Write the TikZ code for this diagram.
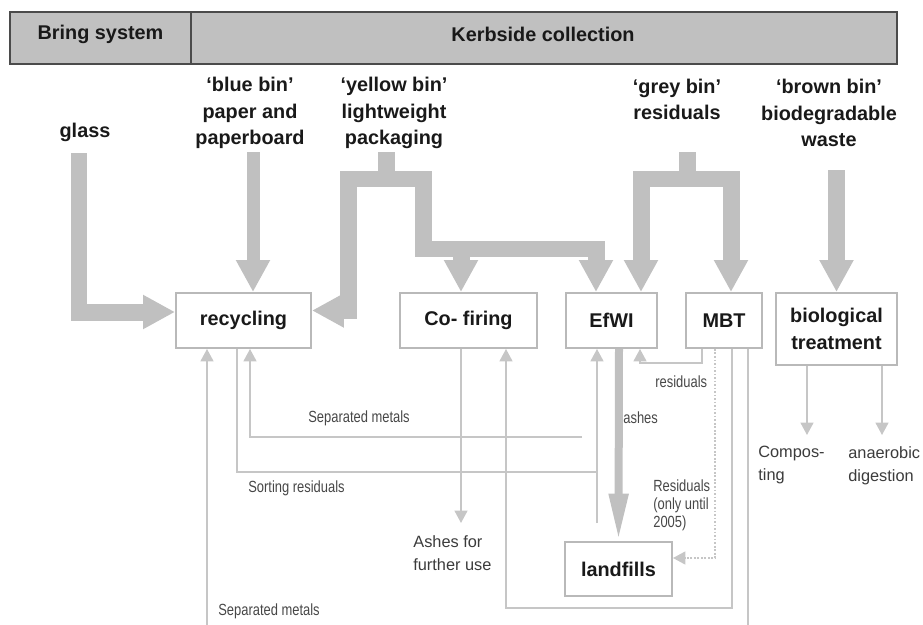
\documentclass[tikz,border=0pt]{standalone}
\usepackage{fontspec}
\setmainfont{Liberation Sans}
\newfontfamily\slimsans[FakeStretch=0.8]{Liberation Sans}
\usetikzlibrary{arrows.meta}
\definecolor{flowgrey}{RGB}{192,192,192}
\definecolor{linegrey}{RGB}{198,198,198}
\definecolor{boxgrey}{RGB}{185,185,185}
\definecolor{headline}{RGB}{75,75,75}
\definecolor{inkgrey}{RGB}{25,25,25}
\tikzset{
  plant/.style={draw=boxgrey, line width=1.1pt, text=inkgrey, inner sep=0pt,
    font=\fontsize{11.3}{15}\selectfont\bfseries, align=center},
  bin/.style={text=inkgrey, inner sep=0pt, align=center,
    font=\fontsize{11.3}{15}\selectfont\bfseries},
  note/.style={text=inkgrey!80, inner sep=0pt, anchor=west, align=left,
    font=\slimsans\fontsize{9.2}{10.2}\selectfont},
  outlet/.style={text=inkgrey!85, inner sep=0pt, anchor=north west, align=left,
    font=\fontsize{9.3}{13}\selectfont},
  bigflow/.style={draw=flowgrey, line width=0.34cm,
    -{Triangle[width=0.64cm,length=0.64cm]}},
  ashflow/.style={draw=flowgrey, line width=0.16cm,
    -{Triangle[width=0.36cm,length=0.95cm]}},
  flow/.style={draw=linegrey, line width=1pt,
    -{Triangle[width=0.26cm,length=0.25cm]}},
  thinline/.style={draw=linegrey, line width=1pt},
}
\begin{document}
\begin{tikzpicture}[x=0.02cm,y=-0.02cm]
\useasboundingbox (0,0) rectangle (923,625);

% header bar
\draw[headline, fill=flowgrey, line width=0.9pt] (10,12) rectangle (897,64);
\draw[headline, line width=0.9pt] (191,12) -- (191,64);
\node[bin] (bring) at (100.5,34) {Bring system};
\node[bin] (kerbside) at (543,34) {Kerbside collection};

% waste streams
\node[bin] (glass) at (85,132) {glass};
\node[bin] (bluebin) at (250,113) {‘blue bin’\\paper and\\paperboard};
\node[bin] (yellowbin) at (394,113) {‘yellow bin’\\lightweight\\packaging};
\node[bin] (greybin) at (677,99.5) {‘grey bin’\\residuals};
\node[bin] (brownbin) at (829,113) {‘brown bin’\\biodegradable\\waste};

% plants
\node[plant, minimum width=2.7cm, minimum height=1.1cm] (recycling) at (243.5,320.5) {recycling};
\node[plant, minimum width=2.74cm, minimum height=1.1cm] (cofiring) at (468.5,320.5) {Co- firing};
\node[plant, minimum width=1.82cm, minimum height=1.1cm] (efwi) at (611.5,320.5) {EfWI};
\node[plant, minimum width=1.52cm, minimum height=1.1cm] (mbt) at (724,320.5) {MBT};
\node[plant, minimum width=2.42cm, minimum height=1.44cm] (bio) at (836.5,329) {biological\\treatment};
\node[plant, minimum width=2.14cm, minimum height=1.08cm] (landfills) at (618.5,569) {landfills};

% outlets and flow labels
\node[outlet] (ashuse) at (413,535) {Ashes for\\further use};
\node[outlet] (compost) at (758,446) {Compos-\\ting};
\node[outlet] (digest) at (848,446) {anaerobic\\digestion};
\node[note] (metalsup) at (308,418) {Separated metals};
\node[note] (sorting) at (248,488) {Sorting residuals};
\node[note] (metalsdown) at (218,611) {Separated metals};
\node[note] (ashlab) at (623,418) {ashes};
\node[note] (reslab) at (655,382) {residuals};
\node[note] (oldres) at (653,505) {Residuals\\(only until\\2005)};

% free ends
\coordinate (glassin) at (79,153);
\coordinate (bluein) at (253,152);
\coordinate (yellowin) at (386,152);
\coordinate (yellowsplit) at (386,179);
\coordinate (greyin) at (687,152);
\coordinate (greysplit) at (687,179);
\coordinate (brownin) at (836.5,170);
\coordinate (metalsend) at (582,437);
\coordinate (sortjoin) at (597,472);
\coordinate (sortend) at (597,523);
\coordinate (ashend) at (461,523);
\coordinate (metalsbottom) at (207,625);
\coordinate (mbtbottom) at (748,625);

% thick flows
\draw[bigflow] (glassin) |- ([yshift=0.17cm]recycling.west);
\draw[bigflow, line width=0.26cm] (bluein) -- (bluein |- recycling.north);
\draw[bigflow] (yellowin) |- (348,179) |- ([yshift=0.2cm]recycling.east);
\draw[bigflow] (yellowsplit) -| (423.5,249) -| (596,0 |- efwi.north);
\draw[bigflow] (461,249) -- (461,0 |- cofiring.north);
\draw[bigflow] (greyin) |- (641,179) -- (641,0 |- efwi.north);
\draw[bigflow] (greysplit) -| (731,0 |- mbt.north);
\draw[bigflow] (brownin) -- (bio.north);
\draw[ashflow] (619,0 |- efwi.south) -- (landfills.north);

% thin flows
\draw[flow] (metalsbottom) -- (metalsbottom |- recycling.south);
\draw[flow] (metalsend) -| (250,0 |- recycling.south);
\draw[thinline] (237,0 |- recycling.south) |- (sortjoin);
\draw[flow] (sortend) -- (sortend |- efwi.south);
\draw[flow] (461,0 |- cofiring.south) -- (ashend);
\draw[flow] (732,0 |- mbt.south) |- (506,608) -- (506,0 |- cofiring.south);
\draw[thinline] (748,0 |- mbt.south) -- (mbtbottom);
\draw[flow] (702,0 |- mbt.south) |- (640,363) -- (640,0 |- efwi.south);
\draw[flow, densely dotted] (715,0 |- mbt.south) |- ([yshift=0.22cm]landfills.east);
\draw[flow] (807,0 |- bio.south) -- (807,435);
\draw[flow] (882,0 |- bio.south) -- (882,435);
\end{tikzpicture}
\end{document}
